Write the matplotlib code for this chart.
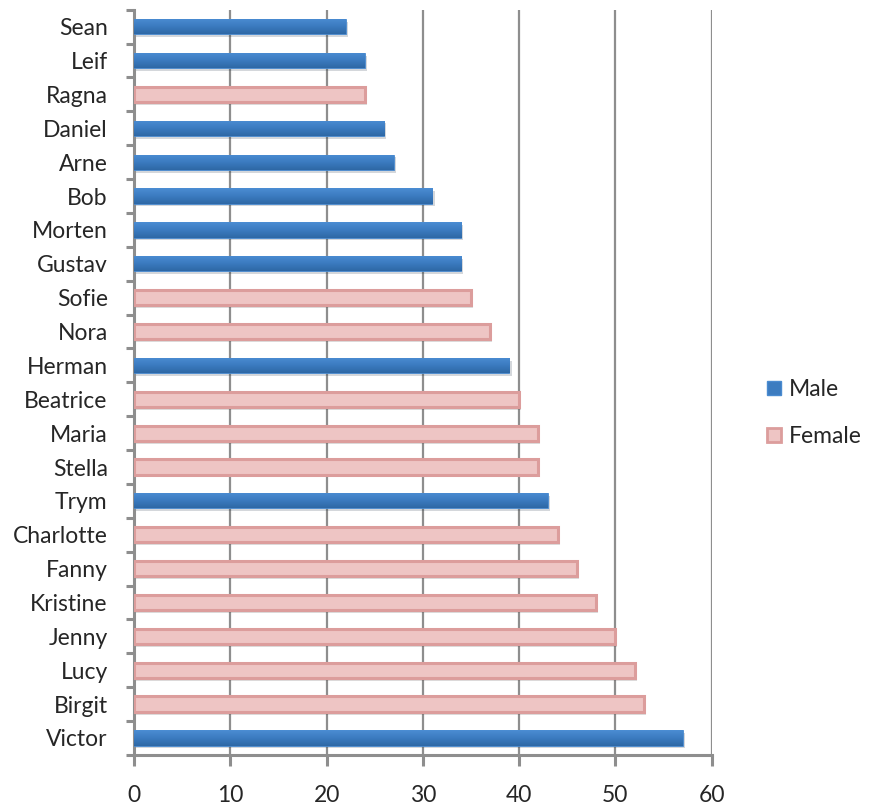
import numpy as np
import matplotlib.pyplot as plt
import matplotlib.patheffects as pe
from matplotlib.patches import Patch
from matplotlib.colors import LinearSegmentedColormap

plt.rcParams['font.family'] = ['Lato', 'DejaVu Sans']

# names top to bottom, with value and gender
names = ['Sean', 'Leif', 'Ragna', 'Daniel', 'Arne', 'Bob', 'Morten', 'Gustav',
         'Sofie', 'Nora', 'Herman', 'Beatrice', 'Maria', 'Stella', 'Trym',
         'Charlotte', 'Fanny', 'Kristine', 'Jenny', 'Lucy', 'Birgit', 'Victor']
values = [22, 24, 24, 26, 27, 31, 34, 34, 35, 37, 39, 40, 42, 42, 43,
          44, 46, 48, 50, 52, 53, 57]
gender = ['M', 'M', 'F', 'M', 'M', 'M', 'M', 'M', 'F', 'F', 'M', 'F', 'F', 'F', 'M',
          'F', 'F', 'F', 'F', 'F', 'F', 'M']
xticks = [0, 10, 20, 30, 40, 50, 60]

male_face, male_edge = '#3c7cc0', '#4a8bd0'
female_face, female_edge = '#eec5c4', '#dc9d9c'
grey = '#8e8e8e'
txt = '#262626'

# vertical shading for the blue bars (light top, darker bottom)
blue_grad = LinearSegmentedColormap.from_list('bl', ['#4b8dd3', '#3b7bc0', '#2e68a5'])
grad = np.linspace(0, 1, 64).reshape(-1, 1)

fig = plt.figure(figsize=(8.71, 8.10), dpi=100)
ax = fig.add_axes([0.154, 0.068, 0.663, 0.920])

y = np.arange(len(names))
h = 0.45
shadow = [pe.SimplePatchShadow(offset=(1.5, -2), alpha=0.18), pe.Normal()]
for yi, v, g in zip(y, values, gender):
    if g == 'M':
        b = ax.barh(yi, v, height=h, color=male_face, edgecolor=male_edge,
                    linewidth=0.6, zorder=3)
        b[0].set_path_effects(shadow)
        im = ax.imshow(grad, cmap=blue_grad, aspect='auto', zorder=3.5,
                       extent=(0, v, yi + h / 2, yi - h / 2))
        im.set_clip_path(b[0])
    else:
        b = ax.barh(yi, v, height=h, color=female_face, edgecolor=female_edge,
                    linewidth=2.2, zorder=3)
        b[0].set_path_effects(shadow)

ax.set_xlim(0, 60)
ax.set_ylim(len(names) - 0.5, -0.5)
ax.set_xticks(xticks)
ax.set_yticks(y)
ax.set_yticklabels(names)
ax.set_yticks(np.arange(len(names) + 1) - 0.5, minor=True)

ax.grid(axis='x', color=grey, linewidth=1.6, zorder=0)
ax.set_axisbelow(True)

for side in ['top', 'right']:
    ax.spines[side].set_visible(False)
for side in ['left', 'bottom']:
    ax.spines[side].set_color(grey)
    ax.spines[side].set_linewidth(2.2)

ax.tick_params(axis='y', which='major', length=0, pad=19, labelsize=16.5,
               labelcolor=txt)
ax.tick_params(axis='y', which='minor', length=6, width=2.2, color=grey)
ax.tick_params(axis='x', length=8, width=2.2, color=grey, pad=14, labelsize=16.5,
               labelcolor=txt)

handles = [Patch(facecolor=male_face, edgecolor=male_edge, label='Male'),
           Patch(facecolor=female_face, edgecolor=female_edge, linewidth=2,
                 label='Female')]
fig.legend(handles=handles, loc='center left', bbox_to_anchor=(0.857, 0.490),
           frameon=False, fontsize=16.5, handlelength=0.6, handleheight=0.6,
           handletextpad=0.35, labelspacing=1.15, labelcolor=txt)

fig.savefig('out.png', dpi=100)
